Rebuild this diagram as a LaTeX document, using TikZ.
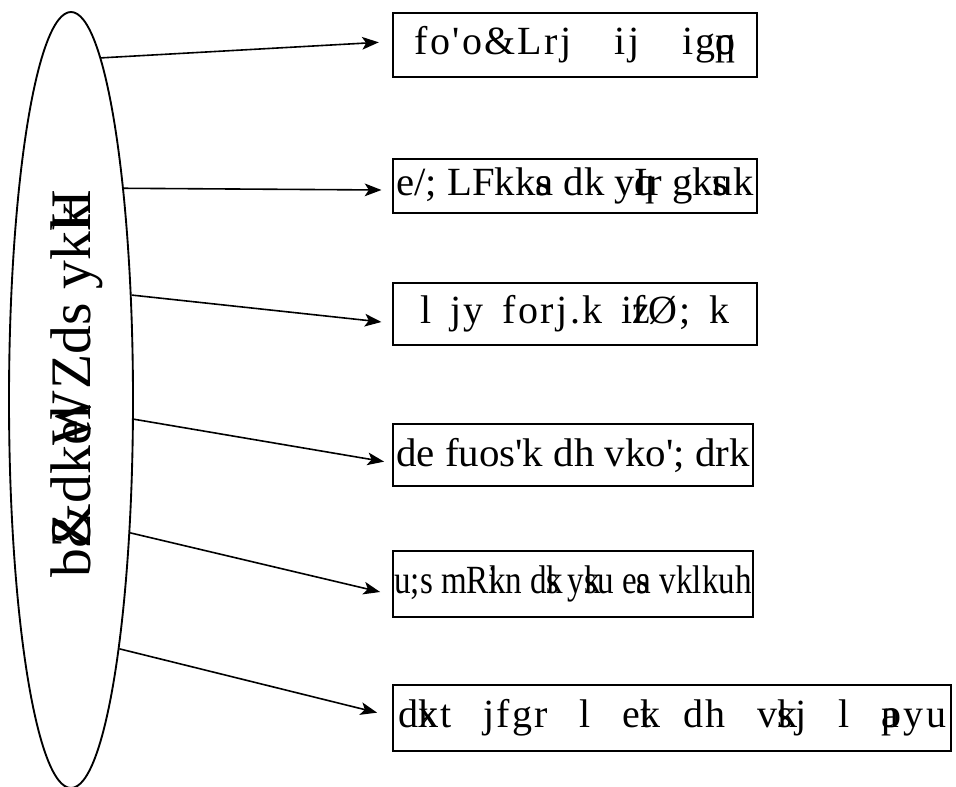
\documentclass[tikz,border=0pt]{standalone}
\usepackage{fontspec}
\setmainfont{Liberation Serif}[Ligatures=TeXOff]
\newfontfamily\widefont{Liberation Serif}[Ligatures=TeXOff,LetterSpace=6]
\usetikzlibrary{shapes.geometric,arrows.meta}
\newcommand\ovl[2]{\rlap{#1}#2}
\newcommand\fitw[2]{\resizebox{#1}{\height}{#2}}
\newcommand\spread[2]{\makebox[#1][s]{\widefont #2}}
\begin{document}
\begin{tikzpicture}[x=0.75pt,y=-0.75pt,
  box/.style={draw=black,line width=1.3pt,inner sep=0pt,font=\fontsize{30}{34}\selectfont},
  arr/.style={-{Stealth[length=12.5pt,width=9.5pt,inset=3pt]},line width=1.2pt}]
\useasboundingbox (0,0) rectangle (956,787);
% ellipse with title
\node[draw,ellipse,line width=1.4pt,minimum width=93pt,minimum height=582pt,inner sep=0pt] (ell) at (71,400) {};
\node[rotate=90,font=\fontsize{43}{47}\selectfont] (ttl) at (77,390) {\fitw{281pt}{b\ovl{Z}{\&}dk\ovl{W}{e}l Zds yk\ovl{H}{k}}};
% boxes
\node[box,minimum width=273pt,minimum height=48pt] (b1) at (575,45) {\spread{241pt}{fo'o\&Lrj ij ig\ovl{q}{p}}};
\node[box,minimum width=273pt,minimum height=40pt] (b2) at (575,186) {\fitw{268pt}{e/; LFkk\ovl{s}{a} dk y\ovl{q}{I}r gk\ovl{s}{u}k}};
\node[box,minimum width=273pt,minimum height=46.5pt] (b3) at (575,314) {\spread{232pt}{l jy forj.k i\ovl{z}{f}Ø; k}};
\node[box,minimum width=270pt,minimum height=46pt] (b4) at (573,455) {\fitw{265pt}{de fuos'k dh vko'; drk}};
\node[box,minimum width=270pt,minimum height=49.5pt] (b5) at (573,584) {\fitw{268pt}{u;s mR\ovl{i}{k}n d\ovl{k}{s} y\ovl{k}{s}u e\ovl{s}{a} vklkuh}};
\node[box,minimum width=419pt,minimum height=49.5pt] (b6) at (672,718) {\spread{411pt}{d\ovl{k}{x}t jfgr l e\ovl{k}{t} dh v\ovl{k}{s}j l \ovl{a}{p}yu}};
% arrows
\draw[arr] (ell.85) -- ([xshift=-10pt,yshift=2pt]b1.west);
\draw[arr] (ell.76) -- ([xshift=-8pt,yshift=-3pt]b2.west);
\draw[arr] (ell.60) -- ([xshift=-8pt,yshift=-6pt]b3.west);
\draw[arr] (ell.-17.9) -- ([xshift=-6pt,yshift=-5pt]b4.west);
\draw[arr] (ell.-66.6) -- ([xshift=-9pt,yshift=-6pt]b5.west);
\draw[arr] (ell.-79.2) -- ([xshift=-11pt,yshift=4pt]b6.west);
\end{tikzpicture}
\end{document}
